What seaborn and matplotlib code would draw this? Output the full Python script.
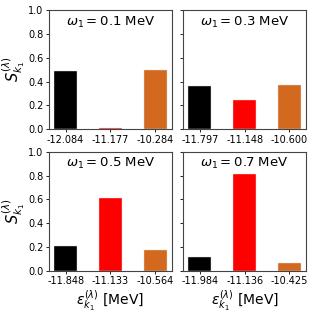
import matplotlib
matplotlib.use("Agg")
import matplotlib.pyplot as plt
import seaborn as sns
import pandas as pd

omegas = ["0.1", "0.3", "0.5", "0.7"]
energies = [
    ["-12.084", "-11.177", "-10.284"],
    ["-11.797", "-11.148", "-10.600"],
    ["-11.848", "-11.133", "-10.564"],
    ["-11.984", "-11.136", "-10.425"],
]
strengths = [
    [0.49, 0.013, 0.495],
    [0.365, 0.247, 0.375],
    [0.207, 0.608, 0.178],
    [0.116, 0.811, 0.07],
]
colors = ["black", "red", "#D2691E"]

plt.rcParams['font.family'] = ['DejaVu Sans']

fig, axes = plt.subplots(2, 2, figsize=(3.15, 3.15), dpi=100, sharey=True)
fig.subplots_adjust(left=0.155, right=0.972, top=0.968, bottom=0.14, wspace=0.09, hspace=0.19)

for i, ax in enumerate(axes.flat):
    df = pd.DataFrame({"e": energies[i], "s": strengths[i]})
    sns.barplot(data=df, x="e", y="s", hue="e", palette=colors, legend=False,
                width=0.52, ax=ax, edgecolor="#e0e0e0", linewidth=0.3, saturation=1)
    ax.set_xlim(-0.375, 2.375)
    ax.set_ylim(0, 1.0)
    ax.set_yticks([0, 0.2, 0.4, 0.6, 0.8, 1.0])
    ax.tick_params(labelsize=7, length=2.5, width=0.6, pad=1.5)
    for sp in ax.spines.values():
        sp.set_color("#444444")
        sp.set_linewidth(0.8)
    ax.text(0.5, 0.9, r"$\omega_1 = $" + omegas[i] + " MeV", transform=ax.transAxes,
            ha="center", va="center", fontsize=9.5)
    ax.set_xlabel("")
    ax.set_ylabel("")
    if i % 2 == 0:
        ax.set_ylabel(r"$S_{k_1}^{(\lambda)}$", fontsize=10.5, labelpad=1)
    if i >= 2:
        ax.set_xlabel(r"$\varepsilon_{k_1}^{(\lambda)}$ [MeV]", fontsize=10, labelpad=1)

fig.savefig("out.png", dpi=100)
